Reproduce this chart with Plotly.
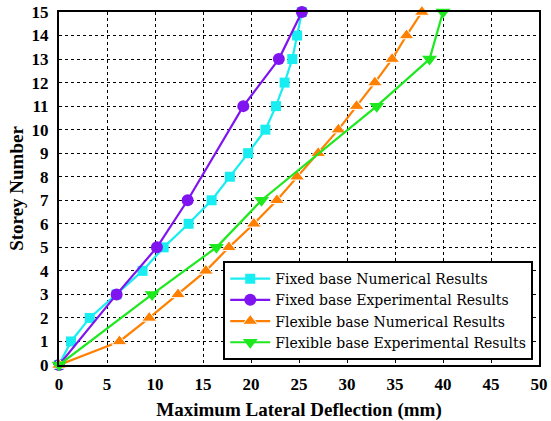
import plotly.graph_objects as go

# Data
fixed_num_story = [0, 1, 2, 3, 4, 5, 6, 7, 8, 9, 10, 11, 12, 13, 14, 15]
fixed_num_defl = [0, 1.25, 3.2, 6.0, 8.7, 10.9, 13.5, 15.9, 17.8, 19.7, 21.5, 22.6, 23.5, 24.3, 24.8, 25.3]

fixed_exp_story = [0, 3, 5, 7, 11, 13, 15]
fixed_exp_defl = [0, 6.0, 10.2, 13.4, 19.2, 22.9, 25.3]

flex_num_story = [0, 1, 2, 3, 4, 5, 6, 7, 8, 9, 10, 11, 12, 13, 14, 15]
flex_num_defl = [0, 6.3, 9.4, 12.4, 15.3, 17.7, 20.3, 22.7, 24.8, 27.0, 29.1, 31.0, 32.9, 34.7, 36.2, 37.8]

flex_exp_story = [0, 3, 5, 7, 11, 13, 15]
flex_exp_defl = [0, 9.7, 16.4, 21.1, 33.1, 38.6, 40.0]

x_ticks = [0, 5, 10, 15, 20, 25, 30, 35, 40, 45, 50]
y_ticks = list(range(0, 16))

serif = "Liberation Serif, Times New Roman, serif"
legend_font = "DejaVu Serif, Liberation Serif, serif"

fig = go.Figure()
fig.add_trace(go.Scatter(
    x=fixed_num_defl, y=fixed_num_story, mode="lines+markers",
    name="Fixed base Numerical Results",
    line=dict(color="#18EEF2", width=2.2),
    marker=dict(symbol="square", size=10, color="#18EEF2"),
    cliponaxis=False))
fig.add_trace(go.Scatter(
    x=fixed_exp_defl, y=fixed_exp_story, mode="lines+markers",
    name="Fixed base Experimental Results",
    line=dict(color="#7F14F0", width=2.2),
    marker=dict(symbol="circle", size=12, color="#7F14F0"),
    cliponaxis=False))
fig.add_trace(go.Scatter(
    x=flex_num_defl, y=flex_num_story, mode="lines+markers",
    name="Flexible base Numerical Results",
    line=dict(color="#FF8000", width=2.2),
    marker=dict(symbol="triangle-up", size=13, color="#FF8000",
                line=dict(color="white", width=1)),
    cliponaxis=False))
fig.add_trace(go.Scatter(
    x=flex_exp_defl, y=flex_exp_story, mode="lines+markers",
    name="Flexible base Experimental Results",
    line=dict(color="#1EE81E", width=2.2),
    marker=dict(symbol="triangle-down", size=13, color="#1EE81E"),
    cliponaxis=False))

axis_common = dict(
    showline=True, linecolor="black", linewidth=2, mirror=True,
    showgrid=True, gridcolor="black", griddash="dot", gridwidth=1.2,
    zeroline=False, ticks="", automargin=False,
    tickfont=dict(family=serif, size=17, color="black", weight="bold"),
)

fig.update_layout(
    width=551, height=421,
    margin=dict(l=59, r=12, t=12, b=56),
    paper_bgcolor="white", plot_bgcolor="white",
    font=dict(family=serif, color="black"),
    xaxis=dict(range=[0, 50], tickvals=x_ticks, ticklabelstandoff=3,
               title=dict(text="Maximum Lateral Deflection (mm)",
                          font=dict(family=serif, size=19, color="black", weight="bold"),
                          standoff=10),
               **axis_common),
    yaxis=dict(range=[0, 15], tickvals=y_ticks, ticklabelstandoff=5,
               title=dict(text="Storey Number",
                          font=dict(family=serif, size=19, color="black", weight="bold"),
                          standoff=3),
               **axis_common),
    legend=dict(x=0.988, y=0.014, xanchor="right", yanchor="bottom",
                bgcolor="white", bordercolor="black", borderwidth=2,
                font=dict(family=legend_font, size=14, color="black"),
                tracegroupgap=0, itemwidth=40),
    showlegend=True,
)

fig.write_html("out.html")
